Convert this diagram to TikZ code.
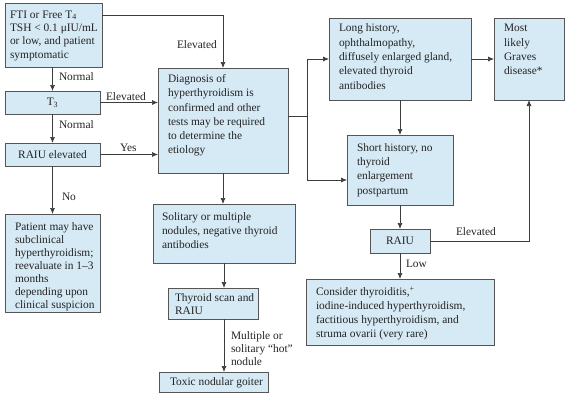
\documentclass[tikz,border=0pt]{standalone}
\usepackage{fontspec}
\setmainfont{Liberation Serif}
\usetikzlibrary{arrows.meta,calc}
\definecolor{boxfill}{RGB}{214,234,245}
\definecolor{boxline}{RGB}{85,85,85}
\definecolor{conn}{RGB}{60,60,60}
\definecolor{ink}{RGB}{35,35,35}
\newcommand\bx[9]{%
  \node[box, anchor=north west, minimum width={(#4-#2)*1pt}, minimum height={(#5-#3)*1pt}] (#1) at (#2,#3) {};
  \node[txt, font=\fontsize{11.4}{#8}\selectfont] (#1-t) at (#2+#6,#3+#7-9) {\rule{0pt}{9pt}#9};}
\begin{document}
\begin{tikzpicture}[x=1pt, y=-1pt,
  box/.style={draw=boxline, fill=boxfill, line width=0.8pt, inner sep=0pt, outer sep=0pt, text=ink},
  txt/.style={anchor=north west, inner sep=0pt, outer sep=0pt, align=left, text=ink},
  lbl/.style={anchor=base west, inner sep=0pt, outer sep=0pt, font=\fontsize{11.4}{13}\selectfont, text=ink},
  arr/.style={draw=conn, line width=0.7pt, -{Latex[length=6pt,width=5pt]}},
  ln/.style={draw=conn, line width=0.7pt}]
\useasboundingbox (0,0) rectangle (565,405);
% boxes
\bx{fti}{5}{3}{102}{67}{5}{15.3}{13.3}{FTI or Free T\textsubscript{4}\\TSH < 0.1 μIU/mL\\or low, and patient\\symptomatic}
\bx{diag}{158}{68}{288}{173}{10}{14.7}{14.2}{Diagnosis of\\hyperthyroidism is\\confirmed and other\\tests may be required\\to determine the\\etiology}
\bx{long}{329}{18}{471}{100}{10}{13.7}{14.4}{Long history,\\ophthalmopathy,\\diffusely enlarged gland,\\elevated thyroid\\antibodies}
\bx{most}{494}{18}{564}{100}{10}{13.7}{14.4}{Most\\likely\\Graves\\disease*}
\bx{short}{347}{135}{453}{205}{10}{16.7}{14.1}{Short history, no\\thyroid\\enlargement\\postpartum}
\bx{patient}{5}{214}{100}{312}{10}{16}{13}{Patient may have\\subclinical\\hyperthyroidism;\\reevaluate in 1–3\\months\\depending upon\\clinical suspicion}
\bx{sol}{153}{204}{295}{263}{9}{16}{14}{Solitary or multiple\\nodules, negative thyroid\\antibodies}
\bx{thy}{168}{288}{258}{319}{7}{13.5}{13}{Thyroid scan and\\RAIU}
\bx{consider}{306}{279}{494}{345}{10}{16}{14}{Consider thyroiditis,\textsuperscript{+}\\iodine-induced hyperthyroidism,\\factitious hyperthyroidism, and\\struma ovarii (very rare)}
\bx{toxic}{159}{372}{268}{392}{11}{13.5}{13}{Toxic nodular goiter}
\node[box, anchor=north west, minimum width=95pt, minimum height=23pt, font=\fontsize{11.4}{13}\selectfont] (t3) at (5,91) {T\textsubscript{3}};
\node[box, anchor=north west, minimum width=95pt, minimum height=23pt, font=\fontsize{11.4}{13}\selectfont] (raiue) at (5,143) {RAIU elevated};
\node[box, anchor=north west, minimum width=60pt, minimum height=24pt, font=\fontsize{11.4}{13}\selectfont] (raius) at (370,229) {RAIU};
% connectors
\draw[arr] ($(fti.north east)+(0,12)$) -| (diag.north);
\draw[arr] (fti.south -| t3.north) -- (t3.north);
\draw[arr] (t3.south) -- (raiue.north);
\draw[arr] (t3.east) -- (t3.east -| diag.west);
\draw[arr] (raiue.east) -- (raiue.east -| diag.west);
\draw[arr] (raiue.south) -- (patient.north);
\coordinate (br) at ($(diag.east)+(19,-4.5)$);
\draw[ln] (diag.east |- br) -- (br);
\draw[arr] (br) |- (long.west);
\draw[arr] (br) |- ($(short.west)+(0,10)$);
\draw[arr] (long.east) -- (most.west);
\draw[arr] (long.south) -- (short.north);
\draw[arr] (short.south) -- (raius.north);
\draw[arr] (raius.south) -- (consider.north);
\draw[arr] (raius.east) -| (most.south);
\draw[arr] (diag.south) -- (diag.south |- sol.north);
\draw[arr] (sol.south) -- (sol.south |- thy.north);
\draw[arr] (sol.south |- thy.south) -- (sol.south |- toxic.north);
% labels
\node[lbl] (l-elev1) at (177,48) {Elevated};
\node[lbl] (l-norm1) at (59,80) {Normal};
\node[lbl] (l-norm2) at (59,128) {Normal};
\node[lbl] (l-elev2) at (106,100) {Elevated};
\node[lbl] (l-yes) at (120,151) {Yes};
\node[lbl] (l-no) at (62,200) {No};
\node[lbl] (l-elev3) at (456,235) {Elevated};
\node[lbl] (l-low) at (406,267) {Low};
\node[txt, font=\fontsize{11.4}{13}\selectfont] (l-mult) at (231,330) {\rule{0pt}{9pt}Multiple or\\solitary “hot”\\nodule};
\end{tikzpicture}
\end{document}
